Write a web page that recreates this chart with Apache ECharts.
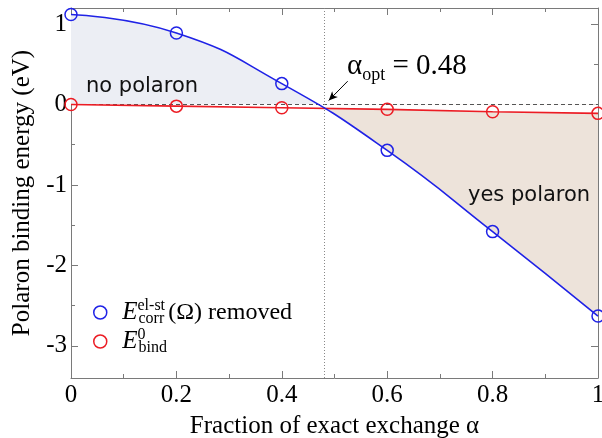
<!DOCTYPE html>
<html>
<head>
<meta charset="utf-8">
<script src="https://cdn.jsdelivr.net/npm/echarts@6/dist/echarts.min.js"></script>
<style>html,body{margin:0;padding:0;background:#fff;}#chart{width:602px;height:438px;}</style>
</head>
<body>
<div id="chart"></div>
<script>
// ---- data ----
const alphaValues = [0, 0.2, 0.4, 0.6, 0.8, 1.0];
const corrRemoved = [1.12, 0.89, 0.26, -0.57, -1.58, -2.63];
const bind0 = [0.0, -0.02, -0.04, -0.06, -0.09, -0.11];
const yMajorTicks = [-3, -2, -1, 0, 1];
const yMinorTicks = [-2.5, -1.5, -0.5, 0.5];
const alphaOpt = 0.48;
const arrowTail = [0.525, 0.29];
const arrowHead = [0.489, 0.05];

const blueName = 'E_corr^el-st(Ω) removed';
const redName = 'E_bind^0';
const BLUE = '#1f22e6';
const RED = '#ec1c24';
const FRAME = '#7a7a7a';
const SERIF = 'Liberation Serif';
const SMOOTH = 0.5;
const CLEAR = 'rgba(255,255,255,0)';

const chart = echarts.init(document.getElementById('chart'), null, {renderer: 'canvas'});

const pairs = (ys) => alphaValues.map((x, i) => [x, ys[i]]);

function xAxisDef(pos, showLabel) {
  return {
    type: 'value', min: 0, max: 1, interval: 0.2, position: pos,
    axisLine: {show: true, onZero: false, lineStyle: {color: FRAME, width: 1}},
    axisTick: {show: true, inside: true, length: 7, lineStyle: {color: FRAME}},
    minorTick: {show: true, splitNumber: 2, length: 4, lineStyle: {color: FRAME}},
    splitLine: {show: false}, minorSplitLine: {show: false},
    axisLabel: {show: showLabel, color: '#000', fontSize: 25, fontFamily: SERIF, margin: 5},
    name: showLabel ? 'Fraction of exact exchange α' : '',
    nameLocation: 'middle', nameGap: 36,
    nameTextStyle: {color: '#000', fontSize: 25, fontFamily: SERIF}
  };
}
function yAxisDef(pos, ticks, len, showLine, showLabel) {
  return {
    type: 'value', min: -3.4, max: 1.2, position: pos,
    axisLine: {show: showLine, onZero: false, lineStyle: {color: FRAME, width: 1}},
    axisTick: {show: true, inside: true, length: len, customValues: ticks, lineStyle: {color: FRAME}},
    splitLine: {show: false},
    axisLabel: {show: showLabel, customValues: ticks, color: '#000', fontSize: 25, fontFamily: SERIF, margin: 4},
    name: showLabel ? 'Polaron binding energy (eV)' : '',
    nameLocation: 'middle', nameGap: 36,
    nameTextStyle: {color: '#000', fontSize: 25, fontFamily: SERIF}
  };
}

const areaGradient = new echarts.graphic.LinearGradient(0, 0, 1, 0, [
  {offset: 0, color: '#eceef4'},
  {offset: alphaOpt, color: '#eceef4'},
  {offset: alphaOpt, color: '#ede3da'},
  {offset: 1, color: '#ede3da'}
]);

const option = {
  animation: false,
  backgroundColor: '#fff',
  grid: {left: 71, right: 4, top: 8, bottom: 60, containLabel: false, outerBoundsMode: 'none'},
  xAxis: [xAxisDef('bottom', true), xAxisDef('top', false)],
  yAxis: [
    yAxisDef('left', yMajorTicks, 7, true, true),
    yAxisDef('left', yMinorTicks, 4, false, false),
    yAxisDef('right', yMajorTicks, 7, true, false),
    yAxisDef('right', yMinorTicks, 4, false, false)
  ],
  legend: {
    orient: 'vertical', left: 88, top: 293, itemWidth: 30, itemHeight: 13, itemGap: 0,
    icon: 'circle',
    data: [
      {name: blueName, itemStyle: {color: CLEAR, borderColor: BLUE, borderWidth: 1.5}},
      {name: redName, itemStyle: {color: CLEAR, borderColor: RED, borderWidth: 1.5}}
    ],
    formatter: (n) => n === blueName
      ? '{e|E}{sup|el-st}{sub|corr}{t|(Ω) removed}'
      : '{e|E}{sup|0}{sub|bind}',
    textStyle: {
      color: '#000',
      rich: {
        e: {fontFamily: SERIF, fontStyle: 'italic', fontSize: 25, lineHeight: 29, color: '#000', padding: [0, 0, 0, 2]},
        sup: {fontFamily: SERIF, fontSize: 16, lineHeight: 14, verticalAlign: 'top', width: 1, color: '#000'},
        sub: {fontFamily: SERIF, fontSize: 16, lineHeight: 14, verticalAlign: 'bottom', color: '#000'},
        t: {fontFamily: SERIF, fontSize: 24, lineHeight: 29, padding: [0, 0, 0, 4], color: '#000'}
      }
    }
  },
  graphic: [
    {type: 'text', x: 86, y: 87, z: 10,
      style: {text: 'no polaron', fontSize: 21, fontFamily: 'DejaVu Sans', fill: '#111', verticalAlign: 'middle'}},
    {type: 'text', x: 468, y: 196, z: 10,
      style: {text: 'yes polaron', fontSize: 21, fontFamily: 'DejaVu Sans', fill: '#111', verticalAlign: 'middle'}},
    {type: 'text', x: 347, y: 66, z: 10,
      style: {
        text: '{a|α}{s|opt}{a| = 0.48}', verticalAlign: 'middle',
        rich: {
          a: {fontFamily: SERIF, fontSize: 29, lineHeight: 36, fill: '#000'},
          s: {fontFamily: SERIF, fontSize: 18, lineHeight: 16, verticalAlign: 'bottom', fill: '#000'}
        }
      }}
  ],
  series: [
    {
      name: 'fill-corr', type: 'line', data: pairs(corrRemoved), smooth: SMOOTH,
      symbol: 'none', showSymbol: false, silent: true,
      lineStyle: {width: 0, opacity: 0},
      areaStyle: {color: areaGradient, opacity: 1, origin: 0},
      z: 1
    },
    {
      name: 'fill-bind', type: 'line', data: pairs(bind0),
      symbol: 'none', showSymbol: false, silent: true,
      lineStyle: {width: 0, opacity: 0},
      areaStyle: {color: '#ffffff', opacity: 1, origin: 0},
      z: 2
    },
    {
      name: redName, type: 'line', data: pairs(bind0),
      symbol: 'circle', symbolSize: 12, showSymbol: true,
      lineStyle: {color: RED, width: 1.6},
      itemStyle: {color: CLEAR, borderColor: RED, borderWidth: 1.5},
      z: 4
    },
    {
      name: blueName, type: 'line', data: pairs(corrRemoved), smooth: SMOOTH,
      symbol: 'circle', symbolSize: 12, showSymbol: true,
      lineStyle: {color: BLUE, width: 1.6},
      itemStyle: {color: CLEAR, borderColor: BLUE, borderWidth: 1.5},
      z: 5,
      markLine: {
        silent: true, animation: false, z: 3,
        symbol: ['none', 'none'],
        label: {show: false},
        data: [
          {yAxis: 0, lineStyle: {color: '#555', type: [4, 3], width: 1}},
          {xAxis: alphaOpt, lineStyle: {color: '#888', type: [1, 2], width: 1}},
          [{coord: arrowTail, symbol: 'none'},
           {coord: arrowHead, symbol: 'arrow', symbolSize: [6, 9], lineStyle: {color: '#000', type: 'solid', width: 1}}]
        ]
      }
    }
  ]
};
chart.setOption(option);
</script>
</body>
</html>
